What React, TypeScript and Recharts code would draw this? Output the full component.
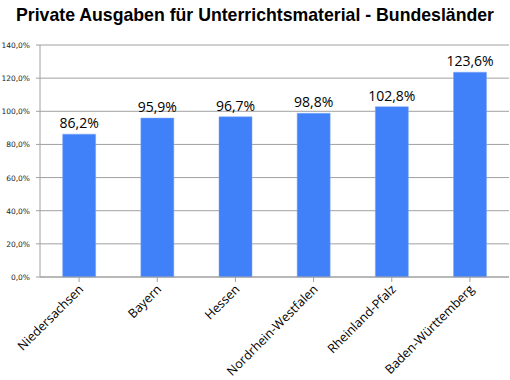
import React from "react";
import { BarChart, Bar, XAxis, YAxis, CartesianGrid, LabelList } from "recharts";

const categories = ["Niedersachsen", "Bayern", "Hessen", "Nordrhein-Westfalen", "Rheinland-Pfalz", "Baden-Württemberg"];
const values = [86.2, 95.9, 96.7, 98.8, 102.8, 123.6];
const yTicks = [0, 20, 40, 60, 80, 100, 120, 140];

const data = categories.map((name, i) => ({ name, value: values[i] }));

const fmt = (v: number) => v.toFixed(1).replace(".", ",") + "%";

const CatTick = (props: any) => {
  const { x, y, payload } = props;
  return (
    <g transform={`translate(${x + 5},${y + 6})`}>
      <text
        x={0}
        y={0}
        textAnchor="end"
        transform="rotate(-45)"
        fontFamily="Open Sans, sans-serif"
        fontSize={12.5}
        fill="#000"
      >
        {payload.value}
      </text>
    </g>
  );
};

const ValTick = (props: any) => {
  const { x, y, payload } = props;
  return (
    <text
      x={x}
      y={y}
      dy={3}
      textAnchor="end"
      fontFamily="DejaVu Sans, sans-serif"
      fontSize={7.5}
      fill="#222"
    >
      {fmt(Number(payload.value))}
    </text>
  );
};

export default function App() {
  return (
    <div style={{ position: "relative", width: 510, height: 380, background: "#fff" }}>
      <style>{`html,body{margin:0;padding:0;}`}</style>
      <div
        style={{
          position: "absolute",
          top: 5,
          left: 0,
          width: 510,
          textAlign: "center",
          whiteSpace: "nowrap",
          fontFamily: "Liberation Sans, Arial, sans-serif",
          fontWeight: "bold",
          fontSize: 17.7,
          color: "#000",
        }}
      >
        Private Ausgaben für Unterrichtsmaterial - Bundesländer
      </div>
      <BarChart
        width={510}
        height={380}
        data={data}
        margin={{ top: 45, right: 1, bottom: 0, left: 0 }}
        barCategoryGap="29%"
        style={{ position: "absolute", top: 0, left: 0 }}
      >
        <CartesianGrid vertical={false} stroke="#a0a0a0" strokeWidth={1} />
        <XAxis
          dataKey="name"
          interval={0}
          tick={<CatTick />}
          height={103}
          axisLine={{ stroke: "#a0a0a0" }}
          tickLine={{ stroke: "#a0a0a0" }}
          tickSize={5}
        />
        <YAxis
          width={40}
          domain={[0, 140]}
          ticks={yTicks}
          interval={0}
          tick={<ValTick />}
          axisLine={{ stroke: "#a0a0a0" }}
          tickLine={{ stroke: "#a0a0a0" }}
          tickSize={4}
          tickMargin={6}
        />
        <Bar dataKey="value" fill="#4080f8" stroke="#7aa6fa" strokeWidth={0.5} isAnimationActive={false}>
          <LabelList
            dataKey="value"
            position="top"
            offset={6}
            formatter={(v: any) => fmt(Number(v))}
            style={{ fontSize: 14, fill: "#000", fontFamily: "Open Sans, sans-serif" }}
          />
        </Bar>
      </BarChart>
    </div>
  );
}
